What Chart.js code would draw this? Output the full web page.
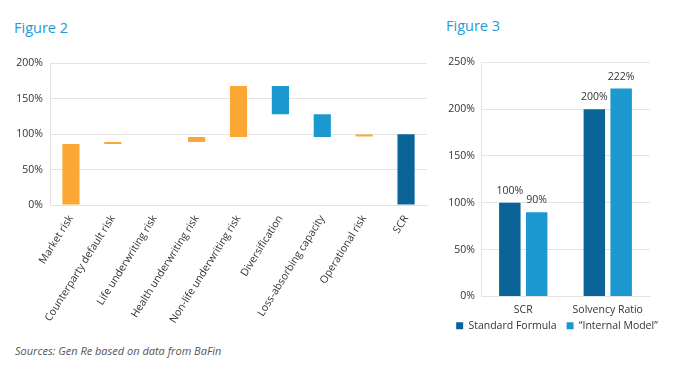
<!DOCTYPE html>
<html>
<head>
<meta charset="utf-8">
<script src="https://cdn.jsdelivr.net/npm/chart.js@4"></script>
<style>
  body { margin: 0; background: #fff; }
  #page { position: relative; width: 674px; height: 375px; overflow: hidden; font-family: "Open Sans", sans-serif; }
  .title { position: absolute; color: #1f9ad3; font-size: 14.5px; }
  .box { position: absolute; }
  #source { position: absolute; left: 15px; top: 343px; font-size: 11px; font-style: italic; color: #555; }
</style>
</head>
<body>
<div id="page">
  <div class="title" style="left:14px;top:18px">Figure 2</div>
  <div class="title" style="left:446px;top:16px">Figure 3</div>
  <div class="box" style="left:0;top:50px"><canvas id="fig2" width="440" height="290"></canvas></div>
  <div class="box" style="left:440px;top:50px"><canvas id="fig3" width="234" height="297"></canvas></div>
  <div id="source">Sources: Gen Re based on data from BaFin</div>
</div>
<script>
// Figure 2 - waterfall of SCR components (floating bars, % of SCR)
const fig2Categories = ['Market risk', 'Counterparty default risk', 'Life underwriting risk',
  'Health underwriting risk', 'Non-life underwriting risk', 'Diversification',
  'Loss-absorbing capacity', 'Operational risk', 'SCR'];
const fig2Low = [0, 86, 89, 89, 96, 128, 96, 96.8, 0];
const fig2High = [86, 88.8, 89, 96, 168, 168, 128, 99.6, 100];
const fig2Kind = ['risk', 'risk', 'risk', 'risk', 'risk', 'offset', 'offset', 'risk', 'total'];

// Figure 3 - standard formula vs internal model
const fig3Categories = ['SCR', 'Solvency Ratio'];
const standardFormula = [100, 200];
const internalModel = [90, 222];

const ORANGE = '#fba733';
const LIGHT_BLUE = '#1b98cf';
const DARK_BLUE = '#0b6497';
const GRID = '#e3e3e3';
const TEXT = '#333';

Chart.defaults.font.family = '"Open Sans", sans-serif';
Chart.defaults.font.size = 10.5;
Chart.defaults.color = TEXT;

const kindColor = { risk: ORANGE, offset: LIGHT_BLUE, total: DARK_BLUE };

new Chart(document.getElementById('fig2'), {
  type: 'bar',
  data: {
    labels: fig2Categories,
    datasets: [{
      data: fig2Low.map((low, i) => [low, fig2High[i]]),
      backgroundColor: fig2Kind.map(k => kindColor[k]),
      barPercentage: 1,
      categoryPercentage: 0.41,
    }],
  },
  options: {
    responsive: false,
    animation: false,
    devicePixelRatio: 1,
    layout: { padding: { top: 11, right: 13, left: 0, bottom: 0 } },
    plugins: { legend: { display: false }, tooltip: { enabled: false } },
    scales: {
      x: {
        grid: { display: false, drawTicks: false },
        border: { color: GRID },
        ticks: { maxRotation: 58, minRotation: 58, autoSkip: false, padding: 8 },
        afterFit: (s) => { s.height = 135; },
      },
      y: {
        min: 0,
        max: 200,
        grid: { color: GRID, drawTicks: false },
        border: { color: GRID },
        ticks: { stepSize: 50, padding: 7, callback: (v) => v + '%' },
        afterFit: (s) => { s.width = 50; },
      },
    },
  },
});

// writes the value above each bar
const valueLabels = {
  id: 'valueLabels',
  afterDatasetsDraw(chart) {
    const ctx = chart.ctx;
    ctx.save();
    ctx.font = '10.5px "Open Sans", sans-serif';
    ctx.fillStyle = TEXT;
    ctx.textAlign = 'center';
    ctx.textBaseline = 'middle';
    chart.data.datasets.forEach((ds, di) => {
      chart.getDatasetMeta(di).data.forEach((bar, i) => {
        ctx.fillText(ds.data[i] + '%', bar.x, bar.y - 12);
      });
    });
    ctx.restore();
  },
};

// legend row sits a little closer to the axis labels than chart.js puts it
const legendNudge = {
  id: 'legendNudge',
  afterLayout(chart) {
    chart.legend.top -= 6;
    chart.legend.bottom -= 6;
  },
};

new Chart(document.getElementById('fig3'), {
  type: 'bar',
  data: {
    labels: fig3Categories,
    datasets: [
      { label: 'Standard Formula', data: standardFormula, backgroundColor: DARK_BLUE },
      { label: '\u201cInternal Model\u201d', data: internalModel, backgroundColor: LIGHT_BLUE },
    ],
  },
  options: {
    responsive: false,
    animation: false,
    devicePixelRatio: 1,
    barPercentage: 0.8,
    categoryPercentage: 0.635,
    layout: { padding: { top: 12, right: 0, left: 0, bottom: 0 } },
    plugins: {
      tooltip: { enabled: false },
      legend: {
        position: 'bottom',
        labels: { boxWidth: 7, boxHeight: 7, padding: 10, color: TEXT },
      },
    },
    scales: {
      x: {
        grid: { display: false, drawTicks: false },
        border: { color: GRID },
        ticks: { padding: 7, minRotation: 0, maxRotation: 0 },
        afterFit: (s) => { s.height = 20; },
      },
      y: {
        min: 0,
        max: 250,
        grid: { color: GRID, drawTicks: false },
        border: { color: GRID },
        ticks: { stepSize: 50, padding: 6, callback: (v) => v + '%' },
        afterFit: (s) => { s.width = 41; },
      },
      // empty right axis, keeps the plot narrower than the legend row
      spacer: {
        position: 'right',
        grid: { display: false },
        border: { display: false },
        ticks: { display: false },
        afterFit: (s) => { s.width = 24; },
      },
    },
  },
  plugins: [valueLabels, legendNudge],
});
</script>
</body>
</html>
